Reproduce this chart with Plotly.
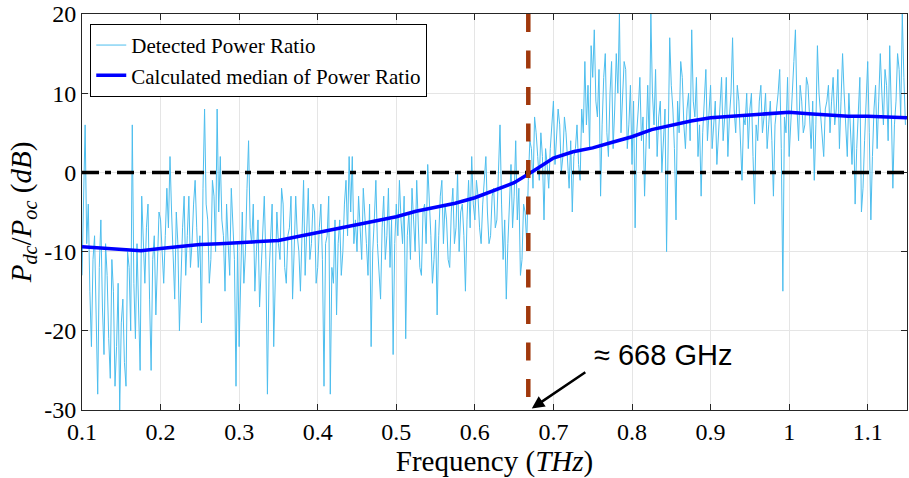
import plotly.graph_objects as go

# detected power ratio (dB), one value every 2 GHz from 0.1 THz (25 values = 50 GHz per row)
freq_start = 0.1
freq_step = 0.002
power_ratio = [
    -13, -3, 6, -9, -4, -15, -22, -11, -8, -18, -28, -12, -6, -17, -23, -9, -13, -21, -26, -11, -15, -27, -22, -14, -30,
    -19, -16, -24, -27, -10, -12, -20, 6, -14, -21, -9, -17, -25, -3, -10, -14, -7, -4, -16, -25, -11, -8, -18, -12, -5,
    -6, -10, -14, -8, -2, -7, 2, -5, -11, -16, -5, -9, -20, -12, -7, -3, -13, -8, -3, -12, -9, -4, -1, -7, -12,
    -8, -19, -2, 8, -4, -6, -14, -11, -1, -3, -10, 8, -5, 2, -6, -8, -15, -4, -9, -13, -2, -6, -11, -27, -9,
    -22, -12, -5, -14, -10, -2, 4, -7, -9, -4, -15, -10, -6, -17, -12, -7, -3, -11, -28, -13, -8, -4, -22, -12, -5,
    -9, -11, -2, -4, -12, -14, -8, -7, -3, -16, -10, -3, -8, -10, -15, -6, -1, -13, -7, -2, -11, -9, -4, -5, -14,
    -12, -7, -4, -11, -27, -9, -8, -3, -28, -12, -14, -6, -18, -9, -6, -13, -10, -4, -1, -8, 2, -5, 2, -9, -6,
    -10, -3, -7, -11, -2, -5, -9, -13, -4, -22, -10, -6, -1, -9, -12, -16, -7, -3, -11, -8, -2, -12, -6, -23, -9,
    -4, -8, -1, -6, -9, -3, -21, -8, -5, -11, -2, -6, -10, -1, -7, -12, -13, -5, -4, -9, 1, -3, -8, -14, -11,
    -6, -18, -8, -3, -1, -9, -4, -6, -11, -12, -5, -2, -9, -7, 0, -10, -5, -4, -8, -15, -6, -1, -7, 2, -4,
    -6, -1, -3, -7, -9, -4, -1, 2, -5, -9, -8, -3, -2, -7, -6, -1, 6, -4, -11, -6, -16, -9, -4, 1, -7,
    -3, 4, -6, -2, -13, -11, -4, -5, -9, -1, 4, 3, -2, 7, 5, 2, -1, 5, 2, -6, 3, 1, -2, 3, 6,
    9, 1, 4, 8, 6, 0, 2, 7, 5, 1, -2, 4, -5, 2, 3, 6, 1, -1, 8, 5, 14, 6, 11, 3, 16,
    12, 18, 9, 7, 13, -3, 6, 12, 15, 5, 2, 10, 14, 3, 8, 15, 10, 20, 5, 9, 14, 13, 3, 6, 11,
    1, 9, -7, 5, 8, 12, 4, 7, -3, 6, 11, 3, 20, 10, 6, 13, 2, 7, 9, 0, 4, 8, -10, 6, 17,
    11, 8, 3, -6, 9, 5, 14, 12, 6, 3, 8, 10, 4, 18, 9, 7, 12, 2, 6, -3, 5, 9, 13, 4, 8,
    11, 3, 6, 9, 1, 5, 8, 12, 4, 7, 12, 2, 7, 10, 17, 8, 5, 11, 9, 3, -1, 7, 6, 10, 3,
    8, 10, 2, -4, 6, 4, 9, 11, 5, 7, 10, 3, 6, 9, 4, -3, 6, 8, 10, 13, 3, -15, 7, 5, 12,
    2, 7, 10, 14, 18, 8, 4, 11, 9, 5, 6, 12, 11, 7, 3, 9, -1, 6, 16, 10, 7, 4, 2, 8, 9,
    11, 5, 9, 12, 6, 8, 13, 3, 9, 15, 10, 6, 2, 10, 5, 1, 7, -4, 3, 7, 12, -5, -2, 4, 9,
    14, 5, -6, 2, 8, 11, 3, 9, 15, 10, 6, 13, 11, 4, 16, 8, -2, 6, 9, 15, 13, 7, 20, 12, 6,
]
freq = [round(freq_start + freq_step * i, 4) for i in range(len(power_ratio))]

# median of the power ratio (dB), every 25 GHz
median_freq = [round(0.1 + 0.025 * i, 3) for i in range(43)]
median_ratio = [
    -9.4, -9.6, -9.8, -9.9, -9.6, -9.3, -9.1, -9.0, -8.9, -8.8, -8.6, -8.1, -7.6, -7.2, -6.7,
    -6.1, -5.6, -4.9, -4.4, -3.9, -3.2, -2.3, -1.3, 0.2, 1.8, 2.6, 3.1, 3.8, 4.5, 5.4,
    6.0, 6.5, 6.9, 7.1, 7.3, 7.5, 7.6, 7.4, 7.2, 7.1, 7.1, 7.0, 6.9,
]

crossing_freq = 0.668
x_ticks = [0.1, 0.2, 0.3, 0.4, 0.5, 0.6, 0.7, 0.8, 0.9, 1.0, 1.1]
x_tick_text = ["0.1", "0.2", "0.3", "0.4", "0.5", "0.6", "0.7", "0.8", "0.9", "1", "1.1"]
y_ticks = [-30, -20, -10, 0, 10, 20]
y_tick_text = ["-30", "-20", "-10", "0", "10", "20"]

serif = "Liberation Serif"
sans = "Liberation Sans"

fig = go.Figure()
fig.add_trace(go.Scatter(x=freq, y=power_ratio, mode="lines", name="Detected Power Ratio",
                         line=dict(color="#4DBEEE", width=1)))
fig.add_trace(go.Scatter(x=median_freq, y=median_ratio, mode="lines", name="Calculated median of Power Ratio",
                         line=dict(color="#0000FF", width=3.5)))

# 0 dB reference and crossing frequency
fig.add_shape(type="line", xref="x", yref="y", x0=0.1, x1=1.15, y0=0, y1=0, layer="above",
              line=dict(color="black", width=3.5, dash="17px,6px,6px,6px"))
fig.add_shape(type="line", xref="x", yref="y", x0=crossing_freq, x1=crossing_freq, y0=20, y1=-30, layer="above",
              line=dict(color="#A0380C", width=4.5, dash="18px,18.5px"))

fig.add_annotation(x=0.6725, y=-29.8, ax=0.7425, ay=-25.1, xref="x", yref="y", axref="x", ayref="y",
                   text="", showarrow=True, arrowhead=2, arrowsize=1, arrowwidth=2.5, arrowcolor="black")
fig.add_annotation(x=0.749, y=-23.0, xref="x", yref="y", text="\u2248 668 GHz", showarrow=False,
                   xanchor="left", yanchor="middle", font=dict(family=sans, size=29, color="black"))

fig.update_layout(
    width=909, height=478,
    margin=dict(l=82, r=2, t=14, b=68, autoexpand=False),
    plot_bgcolor="white", paper_bgcolor="white",
    font=dict(family=serif, size=24, color="black"),
    showlegend=True,
    legend=dict(x=0.01, y=0.975, xanchor="left", yanchor="top", bgcolor="white",
                bordercolor="black", borderwidth=1, font=dict(family=serif, size=21, color="black"),
                tracegroupgap=0, itemwidth=30),
)
fig.update_xaxes(range=[0.1, 1.15], tickvals=x_ticks, ticktext=x_tick_text,
                 tickfont=dict(family=serif, size=24, color="black"),
                 showgrid=True, gridcolor="#e5e5e5", zeroline=False,
                 showline=True, linecolor="#262626", linewidth=1, mirror="ticks",
                 ticks="inside", ticklen=6, tickcolor="#262626",
                 title=dict(text="Frequency (<i>THz</i>)", font=dict(family=serif, size=29), standoff=0))
fig.update_yaxes(range=[-30, 20], tickvals=y_ticks, ticktext=y_tick_text,
                 tickfont=dict(family=serif, size=24, color="black"),
                 showgrid=True, gridcolor="#e5e5e5", zeroline=False,
                 showline=True, linecolor="#262626", linewidth=1, mirror="ticks",
                 ticks="inside", ticklen=6, tickcolor="#262626",
                 title=dict(text="<i>P</i><sub><i>dc</i></sub>/<i>P</i><sub><i>oc</i></sub> (<i>dB</i>)",
                            font=dict(family=serif, size=29), standoff=4))

# page body has a default 8px margin; drop it so the figure sits at the window origin
fig.write_html("out.html", config={"displayModeBar": False},
               post_script="document.body.style.margin='0';document.body.style.overflow='hidden';")
